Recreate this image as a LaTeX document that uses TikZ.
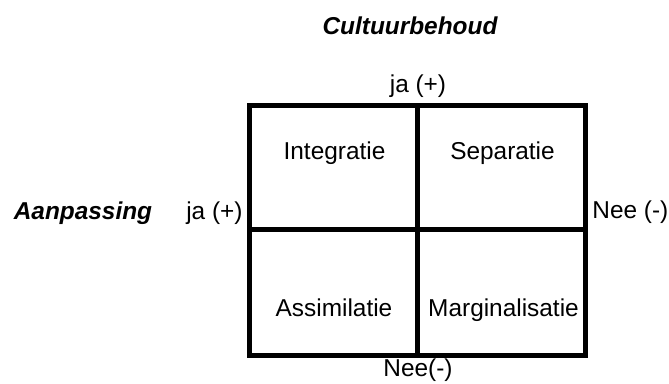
\documentclass[tikz,border=0pt]{standalone}
\usepackage{fontspec}
\setmainfont{Liberation Sans}
\begin{document}
\begin{tikzpicture}[x=0.5pt,y=-0.5pt,
        every node/.style={inner sep=0pt,font=\fontsize{12.2}{14}\selectfont},
        kop/.style={font=\fontsize{12.2}{14}\selectfont\bfseries\itshape},
        rand/.style={line width=2.5pt}]
                \useasboundingbox (0,0) rectangle (669,384);
                \coordinate (NW) at (249.2,105.8);
                \coordinate (SE) at (585.8,356);
                \coordinate (M) at (417.5,230);
                \draw[rand] (NW) rectangle (SE);
                \draw[rand] (M |- NW) -- (M |- SE);
                \draw[rand] (M -| NW) -- (M -| SE);
                \node[kop,anchor=base] (cultuur) at (410,35) {Cultuurbehoud};
                \node[kop,anchor=base] (aanpassing) at (83,220) {Aanpassing};
                \node[anchor=base] (jaboven) at (418,93) {ja (+)};
                \node[anchor=base east] (jalinks) at (243,220) {ja (+)};
                \node[anchor=base west] (neerechts) at (592,219) {Nee (-)};
                \node[anchor=base] (neeonder) at (418,377) {Nee(-)};
                \node[anchor=base] (integratie) at (334.5,160) {Integratie};
                \node[anchor=base] (separatie) at (502.5,160) {Separatie};
                \node[anchor=base] (assimilatie) at (334,317) {Assimilatie};
                \node[anchor=base] (marginalisatie) at (503.5,317) {Marginalisatie};
            \end{tikzpicture}
\end{document}
